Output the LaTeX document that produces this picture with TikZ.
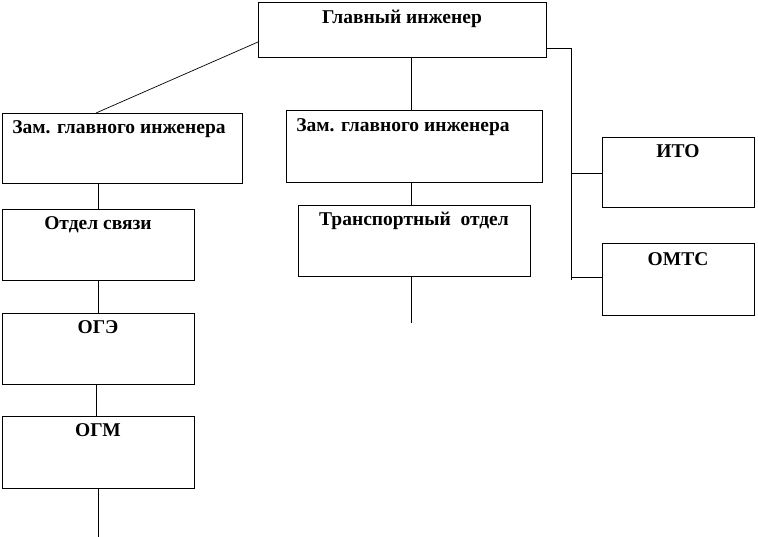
\documentclass[tikz,border=0pt]{standalone}
\usepackage{fontspec}
\setmainfont{Liberation Serif}
\begin{document}
\begin{tikzpicture}[x=1pt,y=-1pt,line width=0.7pt,
  lbl/.style={font=\bfseries\fontsize{19.5}{22}\selectfont,anchor=north,inner sep=0pt}]
\useasboundingbox (0,0) rectangle (758,537);
\draw[fill=white] (258,2) rectangle (546,57); \node[lbl] (gl) at (402,10) {Главный инженер};
\draw (2,113) rectangle (242,183); \node[lbl,anchor=north west] (z1) at (12,120) {Зам. главного инженера};
\draw (286,110) rectangle (542,182); \node[lbl,anchor=north west] (z2) at (296,118) {Зам. главного инженера};
\draw (2,209) rectangle (194,280); \node[lbl] (os) at (98,216) {Отдел связи};
\draw (298,205) rectangle (530,276); \node[lbl] (to) at (414,212) {Транспортный\ \ отдел};
\draw (2,313) rectangle (194,384); \node[lbl] (oge) at (98,320) {ОГЭ};
\draw (2,416) rectangle (194,488); \node[lbl] (ogm) at (98,423) {ОГМ};
\draw (602,137) rectangle (754,207); \node[lbl] (ito) at (678,144) {ИТО};
\draw (602,243) rectangle (754,315); \node[lbl] (omts) at (678,252) {ОМТС};
\coordinate (a1) at (258,42); \coordinate (a2) at (96,113);
\draw (a1) -- (a2);
\draw (411,57) -- (411,110);
\draw (546,48) -- (571,48) -- (571,280);
\draw (571,173) -- (602,173);
\draw (571,277) -- (602,277);
\draw (98,183) -- (98,209);
\draw (98,280) -- (98,313);
\draw (96,384) -- (96,416);
\draw (98,488) -- (98,537);
\draw (411,182) -- (411,205);
\draw (411,276) -- (411,323);
\end{tikzpicture}
\end{document}
